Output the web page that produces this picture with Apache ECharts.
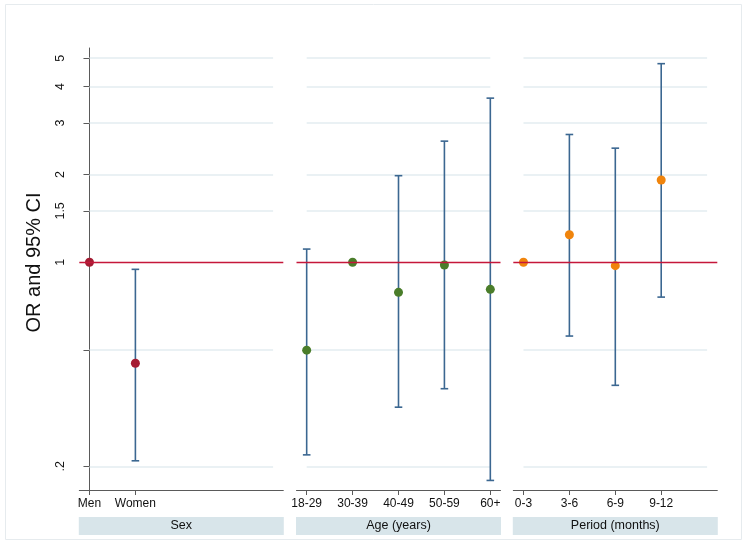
<!DOCTYPE html>
<html>
<head>
<meta charset="utf-8">
<script src="https://cdn.jsdelivr.net/npm/echarts@6/dist/echarts.min.js"></script>
<style>
html,body{margin:0;padding:0;background:#fff;}
#c{width:748px;height:546px;}
</style>
</head>
<body>
<div id="c"></div>
<script>
// ---- data ----
var sexCats = ['Men', 'Women'];
var sexOR = [1, 0.451];
var sexLo = [null, 0.209];
var sexHi = [null, 0.946];

var ageCats = ['18-29', '30-39', '40-49', '50-59', '60+'];
var ageOR = [0.50, 1, 0.789, 0.979, 0.808];
var ageLo = [0.219, null, 0.319, 0.369, 0.179];
var ageHi = [1.11, null, 1.98, 2.60, 3.65];

var perCats = ['0-3', '3-6', '6-9', '9-12'];
var perOR = [1, 1.243, 0.974, 1.914];
var perLo = [null, 0.559, 0.379, 0.760];
var perHi = [null, 2.74, 2.46, 4.79];

var panelTitles = ['Sex', 'Age (years)', 'Period (months)'];
var yTicks = [0.2, 0.5, 1, 1.5, 2, 3, 4, 5];
var yLabels = [0.2, 1, 1.5, 2, 3, 4, 5];
var yTitle = 'OR and 95% CI';

// ---- style ----
var FONT = 'Liberation Sans, Arial, Helvetica, sans-serif';
var AXIS = '#5a5a5a';
var CI = '#3b6791';
var REF = '#c5173a';
var GRIDC = '#e3edf0';
var STRIP = '#d8e5ea';
var markerColors = ['#a41c33', '#4a7d2a', '#f0840c'];
var XMIN = -0.2217, XMAX = 4.2217;
var YMIN = 0.166, YMAX = 5.42;

var panels = [
  {cats: sexCats, or: sexOR, lo: sexLo, hi: sexHi},
  {cats: ageCats, or: ageOR, lo: ageLo, hi: ageHi},
  {cats: perCats, or: perOR, lo: perLo, hi: perHi}
];
var lefts = [79.3, 296.5, 513.3];

var grids = [], xAxes = [], yAxes = [], series = [];
panels.forEach(function (p, i) {
  grids.push({left: lefts[i], width: 204, top: 48, height: 442, outerBoundsMode: 'none', containLabel: false});
  var idx = p.cats.map(function (c, k) { return k; });
  xAxes.push({
    type: 'value', gridIndex: i, min: XMIN, max: XMAX,
    splitLine: {show: false},
    axisLine: {show: true, onZero: false, lineStyle: {color: AXIS, width: 1}},
    axisTick: {show: true, length: 5, customValues: idx, lineStyle: {color: AXIS}},
    axisLabel: {
      customValues: idx, margin: 8, fontSize: 12, fontFamily: FONT, color: '#111',
      formatter: (function (cats) { return function (v) { return cats[Math.round(v)]; }; })(p.cats)
    },
    name: '{s|' + panelTitles[i] + '}', nameLocation: 'middle', nameGap: 27, nameMoveOverlap: false,
    nameTextStyle: {
      fontSize: 12.5, fontFamily: FONT, color: '#111', verticalAlign: 'top',
      rich: {s: {fontSize: 12.5, fontFamily: FONT, color: '#111', backgroundColor: STRIP,
                 width: 205, height: 18, lineHeight: 18, align: 'center', verticalAlign: 'middle'}}
    }
  });
  yAxes.push({
    type: 'log', logBase: 10, gridIndex: i, min: YMIN, max: YMAX,
    splitLine: {show: false},
    axisLine: {show: i === 0, lineStyle: {color: AXIS, width: 1}},
    axisTick: {show: i === 0, length: 6, customValues: yTicks, lineStyle: {color: AXIS}},
    axisLabel: {
      show: i === 0, customValues: yLabels, rotate: 90, margin: 12, fontSize: 12.5, fontFamily: FONT, color: '#111',
      formatter: function (v) { var s = String(+(+v).toFixed(3)); return v < 1 ? s.replace(/^0/, '') : s; }
    },
    name: i === 0 ? yTitle : '', nameLocation: 'middle', nameGap: 35, nameMoveOverlap: false,
    nameTextStyle: {fontSize: 20, fontFamily: FONT, color: '#111', padding: [0, 0, 0, 13]}
  });

  var gridLines = yTicks.filter(function (v) { return v !== 1; }).map(function (v) {
    return [{coord: [0, v]}, {coord: [4, v]}];
  });
  var ciData = [];
  p.cats.forEach(function (c, k) {
    if (p.lo[k] != null) ciData.push([k, p.lo[k], p.hi[k]]);
  });
  series.push({
    type: 'custom', xAxisIndex: i, yAxisIndex: i, z: 2, silent: true,
    data: ciData, encode: {x: 0, y: [1, 2]},
    renderItem: function (params, api) {
      var x = api.value(0);
      var a = api.coord([x, api.value(1)]);
      var b = api.coord([x, api.value(2)]);
      var hw = 3.8;
      var st = {stroke: CI, lineWidth: 1.6};
      return {type: 'group', children: [
        {type: 'line', shape: {x1: a[0], y1: a[1], x2: b[0], y2: b[1]}, style: st},
        {type: 'line', shape: {x1: a[0] - hw, y1: a[1], x2: a[0] + hw, y2: a[1]}, style: st},
        {type: 'line', shape: {x1: b[0] - hw, y1: b[1], x2: b[0] + hw, y2: b[1]}, style: st}
      ]};
    },
    markLine: {
      silent: true, symbol: 'none', z: 1, animation: false,
      label: {show: false},
      lineStyle: {color: GRIDC, width: 1.5, type: 'solid'},
      data: gridLines
    }
  });
  series.push({
    type: 'scatter', xAxisIndex: i, yAxisIndex: i, z: 4, silent: true,
    symbol: 'circle', symbolSize: 9,
    itemStyle: {color: markerColors[i], opacity: 1},
    data: p.or.map(function (v, k) { return [k, v]; }),
    markLine: {
      silent: true, symbol: 'none', animation: false,
      label: {show: false},
      lineStyle: {color: REF, width: 1.3, type: 'solid'},
      data: [[{coord: [XMIN, 1]}, {coord: [XMAX, 1]}]]
    }
  });
});

var chart = echarts.init(document.getElementById('c'), null, {renderer: 'canvas'});
chart.setOption({
  animation: false,
  backgroundColor: '#fff',
  textStyle: {fontFamily: FONT},
  graphic: [{
    type: 'rect', silent: true, z: -10,
    shape: {x: 5.5, y: 4.5, width: 736, height: 535},
    style: {fill: 'none', stroke: '#e6ebee', lineWidth: 1}
  }],
  grid: grids, xAxis: xAxes, yAxis: yAxes, series: series
});
</script>
</body>
</html>
